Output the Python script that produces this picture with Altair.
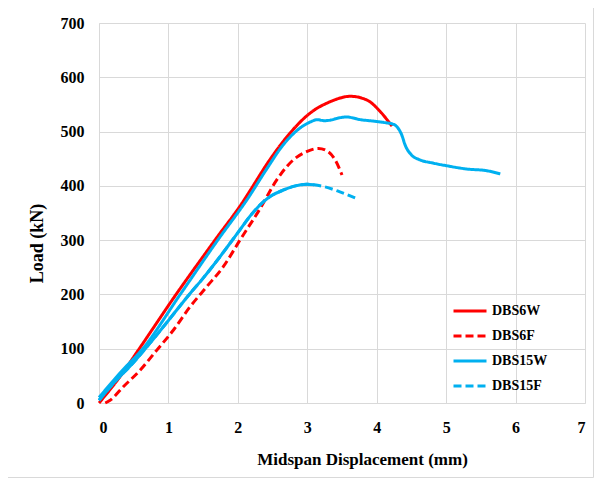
import altair as alt
import pandas as pd

# ---- data ----
dbs6w_x = [0.0, 0.3, 0.58, 1.11, 1.67, 2.09, 2.17, 2.46, 2.75, 3.04, 3.33, 3.62, 3.86, 4.05, 4.19, 4.22]
dbs6w_y = [0, 48, 100, 200, 300, 374, 390, 448, 497, 534, 555, 565, 558, 537, 515, 510]

dbs6f_x = [0.09, 0.16, 0.35, 0.59, 0.83, 1.07, 1.31, 1.55, 1.79, 2.03, 2.32, 2.56, 2.80, 2.99, 3.16, 3.30, 3.40, 3.50]
dbs6f_y = [0, 5, 30, 60, 97, 134, 177, 214, 251, 300, 358, 411, 448, 463, 469, 463, 448, 420]

dbs15w_x = [0.0, 0.3, 0.63, 1.17, 1.71, 2.15, 2.40, 2.65, 2.89, 3.05, 3.14, 3.25, 3.33, 3.45, 3.57, 3.66, 3.76,
            3.90, 4.09, 4.25, 4.29, 4.36, 4.41, 4.50, 4.62, 4.81, 5.01, 5.30, 5.58, 5.78]
dbs15w_y = [10, 55, 100, 200, 300, 378, 428, 475, 506, 518, 522, 520, 521, 525, 527, 525, 522,
            520, 517, 513, 509, 494, 475, 457, 448, 442, 437, 431, 428, 422]

dbs15f_x = [0.0, 0.2, 0.5, 0.72, 1.0, 1.3, 1.5, 1.74, 2.03, 2.2, 2.37, 2.5, 2.65, 2.8, 2.99, 3.1, 3.23, 3.47, 3.69]
dbs15f_y = [5, 35, 75, 108, 152, 200, 230, 269, 319, 348, 371, 383, 392, 399, 403, 402, 399, 389, 378]
dbs15f_dense_until = 3.1  # densely sampled part renders solid in the reference

series_names = ["DBS6W", "DBS6F", "DBS15W", "DBS15F"]
series_colors = ["#FF0000", "#FF0000", "#00B0F0", "#00B0F0"]
series_dash = [[1, 0], [8, 4], [1, 0], [8, 4]]

x_ticks = [0, 1, 2, 3, 4, 5, 6, 7]
y_ticks = [0, 100, 200, 300, 400, 500, 600, 700]

rows = []
for name, xs, ys in [("DBS6W", dbs6w_x, dbs6w_y), ("DBS6F", dbs6f_x, dbs6f_y),
                     ("DBS15W", dbs15w_x, dbs15w_y), ("DBS15F", dbs15f_x, dbs15f_y)]:
    for i, (xv, yv) in enumerate(zip(xs, ys)):
        rows.append({"series": name, "x": xv, "y": yv, "i": i})
df = pd.DataFrame(rows)
df_dense = df[(df.series == "DBS15F") & (df.x <= dbs15f_dense_until)]

FONT = "Liberation Serif"
W, H = 486, 380

xscale = alt.Scale(domain=[0, 7], nice=False)
yscale = alt.Scale(domain=[0, 700], nice=False)

xaxis = alt.Axis(values=x_ticks, format="d", title="Midspan Displacement (mm)", ticks=False, tickSize=0,
                 labelPadding=24, labelBaseline="middle", labelFontSize=16, labelFont=FONT,
                 labelFontWeight="bold", labelColor="#000000",
                 titleFont=FONT, titleFontSize=17, titleFontWeight="bold", titleColor="#000000",
                 titleX=263, titleY=56, titleBaseline="middle", titleAlign="center",
                 domainColor="#d9d9d9", gridColor="#d9d9d9")
yaxis = alt.Axis(values=y_ticks, format="d", title="Load (kN)", ticks=False, tickSize=0,
                 labelPadding=15, labelFontSize=16, labelFont=FONT,
                 labelFontWeight="bold", labelColor="#000000",
                 titleFont=FONT, titleFontSize=18, titleFontWeight="bold", titleColor="#000000",
                 titleX=-62, titleY=220, titleBaseline="middle", titleAlign="center", titleAngle=270,
                 domainColor="#d9d9d9", gridColor="#d9d9d9")

legend = alt.Legend(title=None, orient="none", legendX=353, legendY=270, symbolType="stroke",
                    symbolSize=1089, symbolStrokeWidth=3, labelFont=FONT, labelFontSize=14,
                    labelFontWeight="bold", labelColor="#000000", labelOffset=4, padding=0,
                    rowPadding=-12.3)

lines = alt.Chart(df).mark_line(strokeWidth=3, strokeCap="butt", interpolate="monotone").encode(
    x=alt.X("x:Q", scale=xscale, axis=xaxis),
    y=alt.Y("y:Q", scale=yscale, axis=yaxis),
    color=alt.Color("series:N", scale=alt.Scale(domain=series_names, range=series_colors), legend=legend),
    strokeDash=alt.StrokeDash("series:N", scale=alt.Scale(domain=series_names, range=series_dash), legend=legend),
    order="i:Q",
)

dense = alt.Chart(df_dense).mark_line(strokeWidth=3, color="#00B0F0", interpolate="monotone").encode(
    x=alt.X("x:Q", scale=xscale),
    y=alt.Y("y:Q", scale=yscale),
    order="i:Q",
)

border = alt.Chart(alt.Data(values=[{"a": 1}])).mark_rect(
    fill="#ffffff", fillOpacity=0, stroke="#d9d9d9", strokeWidth=1, strokeOpacity=1, clip=False
).encode(
    x=alt.value(-92.5), x2=alt.value(494.5), y=alt.value(-15.5), y2=alt.value(454.5)
)

chart = alt.layer(border, lines, dense).properties(
    width=W, height=H,
    autosize=alt.AutoSizeParams(type="none"),
    padding={"left": 91, "top": 15, "right": 10, "bottom": 75},
).configure_view(stroke=None).configure_axis(gridWidth=1, domainWidth=1)

chart.save("out.html", embed_options={"renderer": "svg", "actions": False})
